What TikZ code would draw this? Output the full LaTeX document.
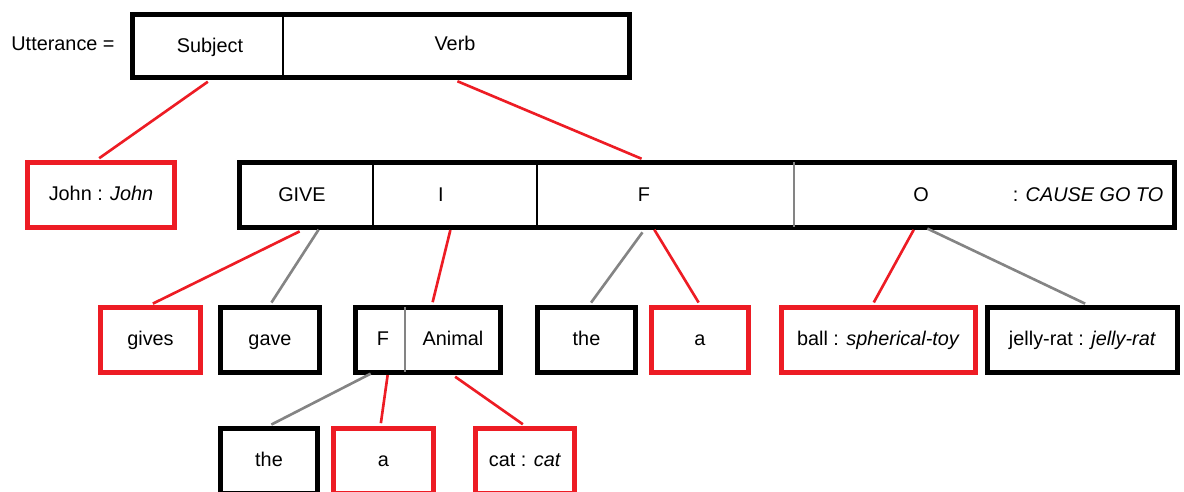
\documentclass[tikz,border=0pt]{standalone}
\usepackage{fontspec}
\setmainfont{Liberation Sans}
\usetikzlibrary{positioning}
\definecolor{linkred}{RGB}{237,28,36}
\definecolor{linkgray}{RGB}{132,132,132}
\tikzset{
	cellbox/.style = {draw, line width = 3.1pt, inner sep = 0pt, minimum height = 1.3cm, text height = 8.2pt, text depth = 2.4pt},
	black box/.style = {cellbox, draw = black},
	red box/.style = {cellbox, draw = linkred},
	word/.style = {inner sep = 0pt, text height = 8.2pt, text depth = 2.4pt},
	divider/.style = {line width = 0.8pt},
	red link/.style = {draw = linkred, line width = 1.5pt, shorten <= 1.5pt, shorten >= 1.5pt},
	gray link/.style = {draw = linkgray, line width = 1.5pt, shorten <= 1.5pt, shorten >= 1.5pt}
}

\begin{document}
\begin{tikzpicture}[x = 0.02cm, y = -0.02cm, font = \fontsize{11.3}{13.5}\selectfont]
	\useasboundingbox (0,0) rectangle (1184,492);

	% utterance
	\node [word] (utt) at (63,45) {Utterance =};
	\node [black box, minimum width = 9.94cm, minimum height = 1.26cm] (top) at (381,46) {};
	\draw [divider] (283,14.5) -- (283,77.5);
	\node [word] (subject) at (210,47) {Subject};
	\node [word] (verb) at (455,45) {Verb};

	\node [red box, minimum width = 2.94cm] (john) at (101,195) {John : \textit{John}};

	% act frame
	\node [black box, minimum width = 18.7cm] (act) at (707,195) {};
	\foreach\x in {373,537}{
		\draw [divider] (\x,162.5) -- (\x,227.5);
	}
	\draw [divider, draw = linkgray] (794,162.5) -- (794,227.5);
	\node [word] (give) at (302,196) {GIVE};
	\node [word] (i) at (441,196) {I};
	\node [word] (f) at (644,196) {F};
	\node [word] (o) at (921,196) {O};
	\node [word] (cause) at (1088,196) {: \textit{CAUSE GO TO}};

	% fillers
	\node [red box, minimum width = 2cm] (gives) at (150.5,340) {gives};
	\node [black box, minimum width = 1.98cm] (gave) at (270,340) {gave};
	\node [black box, minimum width = 2.9cm] (fa) at (428,340) {};
	\draw [divider, draw = linkgray] (405,307.5) -- (405,372.5);
	\node [word] (fa f) at (383,340) {F};
	\node [word] (animal) at (453,340) {Animal};
	\node [black box, minimum width = 1.96cm] (the) at (586.5,340) {the};
	\node [red box, minimum width = 1.94cm] (a) at (700,340) {a};
	\node [red box, minimum width = 3.88cm] (ball) at (878.5,340) {ball : \textit{spherical-toy}};
	\node [black box, minimum width = 3.8cm] (jelly) at (1082.5,340) {jelly-rat : \textit{jelly-rat}};

	\node [black box, minimum width = 1.94cm] (the2) at (269,461) {the};
	\node [red box, minimum width = 2cm] (a2) at (383.5,461) {a};
	\node [red box, minimum width = 1.98cm] (cat) at (525,461) {cat : \textit{cat}};

	% link ends on the frames
	\coordinate (give r) at (320,227.5);
	\coordinate (i l) at (451,227.5);
	\coordinate (f r) at (653,227.5);
	\coordinate (o l) at (915,227.5);
	\coordinate (o r) at (925,227.5);
	\coordinate (fa l) at (373,372.5);
	\coordinate (fa m) at (388,372.5);

	\draw [red link] (subject |- top.south) -- ([xshift = -0.08cm]john.north);
	\draw [red link] (verb |- top.south) -- (f |- act.north);
	\draw [red link] (give |- act.south) -- (gives.north);
	\draw [gray link] (give r) -- (gave.north);
	\draw [red link] (i l) -- ([xshift = 0.08cm]fa.north);
	\draw [gray link] (f |- act.south) -- ([xshift = 0.06cm]the.north);
	\draw [red link] (f r) -- (a.north);
	\draw [red link] (o l) -- ([xshift = -0.12cm]ball.north);
	\draw [gray link] (o r) -- ([xshift = 0.1cm]jelly.north);
	\draw [gray link] (fa l) -- (the2.north);
	\draw [red link] (fa m) -- ([xshift = -0.06cm]a2.north);
	\draw [red link] (animal |- fa.south) -- (cat.north);
\end{tikzpicture}
\end{document}
